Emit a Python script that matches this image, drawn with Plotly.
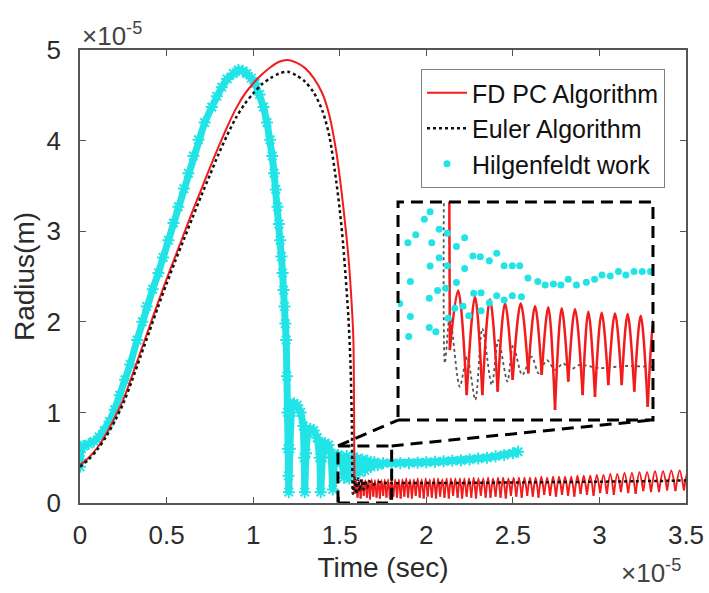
import plotly.graph_objects as go

# ---------------- data (time and radius both in units of 1e-5) ----------------
x_ticks = [0, 0.5, 1, 1.5, 2, 2.5, 3, 3.5]
x_tick_labels = ["0", "0.5", "1", "1.5", "2", "2.5", "3", "3.5"]
y_ticks = [0, 1, 2, 3, 4, 5]
y_tick_labels = ["0", "1", "2", "3", "4", "5"]

# FD PC algorithm: growth and collapse
fd_t = [0.0, 0.05, 0.10, 0.15, 0.20, 0.25, 0.30, 0.35, 0.40, 0.45, 0.50, 0.55, 0.60, 0.65,
        0.70, 0.75, 0.80, 0.85, 0.90, 0.95, 1.00, 1.05, 1.10, 1.15, 1.20, 1.25, 1.30, 1.35,
        1.40, 1.44, 1.48, 1.50, 1.52, 1.55, 1.57, 1.579, 1.583, 1.585]
fd_r = [0.42, 0.50, 0.61, 0.76, 0.94, 1.14, 1.40, 1.67, 1.94, 2.21, 2.47, 2.72, 2.97, 3.22,
        3.46, 3.70, 3.93, 4.15, 4.35, 4.51, 4.63, 4.73, 4.81, 4.87, 4.89, 4.86, 4.80, 4.69,
        4.52, 4.28, 3.88, 3.60, 3.28, 2.72, 2.17, 1.80, 1.00, 0.10]
# FD PC algorithm: after-bounce oscillation (troughs and peaks)
fd_trough_t = [1.585, 1.603, 1.621, 1.639, 1.657, 1.675, 1.694, 1.713, 1.732, 1.751,
               1.770, 1.790, 1.810, 1.831, 1.852, 1.873, 1.895, 1.917, 1.939, 1.962,
               1.985, 2.008, 2.032, 2.056, 2.080, 2.105, 2.130, 2.155, 2.181, 2.207,
               2.233, 2.260, 2.287, 2.315, 2.343, 2.371, 2.400, 2.429, 2.459, 2.489,
               2.520, 2.551, 2.583, 2.615, 2.648, 2.681, 2.715, 2.749, 2.784, 2.819,
               2.855, 2.891, 2.928, 2.966, 3.004, 3.043, 3.083, 3.124, 3.166, 3.209,
               3.253, 3.298, 3.344, 3.391, 3.439, 3.488, 3.538]
fd_trough_r = [0.10, 0.06, 0.05, 0.08, 0.06, 0.04, 0.07, 0.06, 0.05, 0.08,
               0.06, 0.04, 0.07, 0.06, 0.05, 0.07, 0.06, 0.05, 0.08, 0.06,
               0.05, 0.07, 0.06, 0.05, 0.07, 0.06, 0.05, 0.08, 0.06, 0.05,
               0.07, 0.06, 0.05, 0.08, 0.06, 0.06, 0.07, 0.06, 0.05, 0.08,
               0.07, 0.06, 0.08, 0.07, 0.06, 0.09, 0.08, 0.07, 0.09, 0.08,
               0.07, 0.10, 0.09, 0.08, 0.11, 0.10, 0.09, 0.12, 0.11, 0.10,
               0.13, 0.12, 0.12, 0.14, 0.13, 0.14, 0.15]
fd_peak_t = [1.594, 1.612, 1.630, 1.648, 1.666, 1.6845, 1.7035, 1.7225, 1.7415, 1.7605,
             1.780, 1.800, 1.8205, 1.8415, 1.8625, 1.884, 1.906, 1.928, 1.9505, 1.9735,
             1.9965, 2.020, 2.044, 2.068, 2.0925, 2.1175, 2.1425, 2.168, 2.194, 2.220,
             2.2465, 2.2735, 2.301, 2.329, 2.357, 2.3855, 2.4145, 2.444, 2.474, 2.5045,
             2.5355, 2.567, 2.599, 2.6315, 2.6645, 2.698, 2.732, 2.7665, 2.8015, 2.837,
             2.873, 2.9095, 2.947, 2.985, 3.0235, 3.063, 3.1035, 3.145, 3.1875, 3.231,
             3.2755, 3.321, 3.3675, 3.415, 3.4635, 3.513]
fd_peak_r = [0.25, 0.25, 0.26, 0.25, 0.25, 0.26, 0.25, 0.26, 0.25, 0.26,
             0.26, 0.25, 0.26, 0.26, 0.26, 0.27, 0.26, 0.26, 0.27, 0.26,
             0.27, 0.26, 0.27, 0.27, 0.26, 0.27, 0.27, 0.27, 0.27, 0.27,
             0.27, 0.28, 0.27, 0.27, 0.28, 0.27, 0.28, 0.28, 0.27, 0.28,
             0.28, 0.28, 0.28, 0.28, 0.29, 0.28, 0.29, 0.29, 0.29, 0.29,
             0.30, 0.30, 0.30, 0.31, 0.31, 0.32, 0.32, 0.33, 0.33, 0.34,
             0.34, 0.35, 0.35, 0.36, 0.36, 0.37]

# Euler algorithm
eu_t = [0.0, 0.05, 0.10, 0.15, 0.20, 0.25, 0.30, 0.35, 0.40, 0.45, 0.50, 0.55, 0.60, 0.65,
        0.70, 0.75, 0.80, 0.85, 0.90, 0.95, 1.00, 1.05, 1.10, 1.15, 1.20, 1.25, 1.30, 1.35,
        1.40, 1.44, 1.48, 1.50, 1.52, 1.55, 1.562, 1.570, 1.576,
        1.586, 1.596, 1.606, 1.616, 1.626, 1.636, 1.646, 1.658, 1.672, 1.69, 1.72, 1.77,
        1.9, 2.1, 2.4, 2.7, 3.0, 3.2, 3.4, 3.5]
eu_r = [0.40, 0.48, 0.59, 0.73, 0.90, 1.10, 1.35, 1.62, 1.89, 2.16, 2.42, 2.67, 2.91, 3.15,
        3.39, 3.62, 3.85, 4.06, 4.25, 4.40, 4.52, 4.62, 4.69, 4.74, 4.76, 4.72, 4.65, 4.53,
        4.33, 4.05, 3.55, 3.24, 2.85, 2.05, 1.55, 0.90, 0.10,
        0.28, 0.10, 0.27, 0.13, 0.26, 0.15, 0.25, 0.17, 0.24, 0.20, 0.23, 0.22,
        0.22, 0.22, 0.225, 0.23, 0.235, 0.24, 0.245, 0.25]

# Hilgenfeldt work
hg_t = [0.0, 0.0, 0.0, 0.004, 0.02, 0.05, 0.08, 0.11, 0.14, 0.17,
        0.20, 0.23, 0.26, 0.29, 0.33, 0.36, 0.385, 0.42, 0.453, 0.48,
        0.511, 0.54, 0.568, 0.60, 0.626, 0.655, 0.684, 0.72, 0.761, 0.79,
        0.819, 0.85, 0.886, 0.915, 0.94, 0.963, 0.99, 1.012, 1.037, 1.06,
        1.08, 1.098, 1.11, 1.121, 1.131, 1.141, 1.149, 1.156, 1.163, 1.170,
        1.176, 1.181, 1.186, 1.191, 1.195, 1.198, 1.201, 1.204, 1.206,
        1.212, 1.22, 1.235, 1.255, 1.275, 1.29, 1.295, 1.298,
        1.305, 1.315, 1.33, 1.35, 1.37, 1.385, 1.39,
        1.40, 1.415, 1.435, 1.45, 1.46,
        1.47, 1.49, 1.51, 1.525, 1.54, 1.555, 1.57, 1.585, 1.60, 1.615,
        1.63, 1.645, 1.66, 1.68, 1.70, 1.72, 1.75, 1.80, 1.85, 1.90,
        1.95, 2.00, 2.05, 2.10, 2.15, 2.20, 2.25, 2.30, 2.35, 2.40,
        2.45, 2.50, 2.53]
hg_r = [0.40, 0.48, 0.56, 0.62, 0.63, 0.65, 0.68, 0.73, 0.80, 0.90,
        1.03, 1.19, 1.36, 1.53, 1.80, 2.00, 2.17, 2.36, 2.54, 2.71,
        2.90, 3.09, 3.27, 3.47, 3.64, 3.83, 4.01, 4.20, 4.37, 4.49,
        4.59, 4.68, 4.74, 4.78, 4.77, 4.74, 4.69, 4.63, 4.51, 4.37,
        4.20, 4.01, 3.83, 3.64, 3.46, 3.27, 3.08, 2.90, 2.72, 2.54,
        2.35, 2.17, 1.98, 1.80, 1.40, 1.00, 0.60, 0.30, 0.12,
        0.60, 1.00, 1.10, 1.08, 1.00, 0.85, 0.50, 0.12,
        0.55, 0.78, 0.82, 0.80, 0.72, 0.50, 0.12,
        0.50, 0.66, 0.64, 0.55, 0.15,
        0.45, 0.53, 0.49, 0.28, 0.52, 0.27, 0.50, 0.31, 0.49, 0.34,
        0.48, 0.36, 0.47, 0.40, 0.45, 0.42, 0.44, 0.44, 0.44, 0.44,
        0.445, 0.45, 0.455, 0.46, 0.465, 0.47, 0.48, 0.49, 0.50, 0.515,
        0.53, 0.55, 0.565]

# ---------------- inset (magnified view) data ----------------
inset_x_range = [1.49, 1.80]
inset_y_range = [0.0, 0.63]

ins_fd_drop_t = [1.552, 1.553]
ins_fd_drop_r = [0.90, 0.202]
ins_fd_trough_t = [1.553, 1.5735, 1.5925, 1.6112, 1.6294, 1.6484, 1.6647, 1.6809,
                   1.6970, 1.7145, 1.7295, 1.7457, 1.7620, 1.7773, 1.7936, 1.810]
ins_fd_trough_r = [0.202, 0.072, 0.072, 0.082, 0.116, 0.135, 0.130, 0.029,
                   0.111, 0.072, 0.067, 0.101, 0.101, 0.082, 0.038, 0.070]
ins_fd_peak_t = [1.563, 1.5836, 1.6018, 1.6201, 1.6392, 1.6566, 1.6727, 1.6890,
                 1.7052, 1.7214, 1.7376, 1.7538, 1.7692, 1.7851, 1.8015]
ins_fd_peak_r = [0.374, 0.356, 0.349, 0.337, 0.337, 0.329, 0.326, 0.323,
                 0.320, 0.313, 0.310, 0.308, 0.306, 0.301, 0.296]

ins_eu_t = [1.546, 1.547, 1.553, 1.565, 1.574, 1.584, 1.5925, 1.604, 1.612, 1.623, 1.630,
            1.641, 1.6525, 1.661, 1.671, 1.681, 1.691, 1.699, 1.711, 1.736, 1.766, 1.802]
ins_eu_r = [0.80, 0.164, 0.299, 0.096, 0.183, 0.058, 0.265, 0.101, 0.231, 0.111, 0.217,
            0.130, 0.183, 0.135, 0.173, 0.145, 0.164, 0.145, 0.159, 0.150, 0.156, 0.153]

ins_hg_t = [1.492, 1.505, 1.505, 1.503, 1.502, 1.5115, 1.522, 1.529, 1.531, 1.529,
            1.528, 1.528, 1.536, 1.538, 1.540, 1.540, 1.548, 1.550, 1.550, 1.551,
            1.559, 1.561, 1.561, 1.571, 1.571, 1.569, 1.576, 1.581, 1.582, 1.590,
            1.591, 1.591, 1.601, 1.601, 1.610, 1.610, 1.619, 1.619, 1.629, 1.629,
            1.638, 1.640, 1.648, 1.660, 1.669, 1.679, 1.688, 1.697, 1.707, 1.719,
            1.729, 1.738, 1.748, 1.758, 1.767, 1.777, 1.787, 1.797]
ins_hg_r = [0.337, 0.400, 0.299, 0.241, 0.512, 0.535, 0.580, 0.602, 0.512, 0.445,
            0.352, 0.267, 0.255, 0.374, 0.469, 0.551, 0.381, 0.446, 0.540, 0.294,
            0.323, 0.397, 0.501, 0.527, 0.438, 0.329, 0.301, 0.474, 0.366, 0.472,
            0.368, 0.316, 0.460, 0.339, 0.482, 0.359, 0.446, 0.347, 0.446, 0.359,
            0.446, 0.356, 0.410, 0.400, 0.390, 0.393, 0.390, 0.407, 0.390, 0.398,
            0.407, 0.419, 0.416, 0.429, 0.419, 0.429, 0.429, 0.429]

# ---------------- styling ----------------
RED = "#f21c1c"
CYAN = "#22e4e6"
FONT = "Arial, Liberation Sans, sans-serif"
AXC = "#555555"
TXT = "#2b2b2b"
main_x_range = [0, 3.5]
main_y_range = [0, 5]
inset_dom_x = [0.5248, 0.9455]
inset_dom_y = [0.1832, 0.6645]
DASH = "12px,7px"


def arcs(head_t, head_r, tr_t, tr_r, pk_t, pk_r):
    xs, ys = list(head_t), list(head_r)
    for i in range(len(pk_t)):
        xs += [None, tr_t[i], pk_t[i], tr_t[i + 1]]
        ys += [None, tr_r[i], pk_r[i], tr_r[i + 1]]
    return xs, ys


fd_x, fd_y = arcs(fd_t, fd_r, fd_trough_t, fd_trough_r, fd_peak_t, fd_peak_r)
ins_fd_x, ins_fd_y = arcs(ins_fd_drop_t, ins_fd_drop_r, ins_fd_trough_t, ins_fd_trough_r,
                          ins_fd_peak_t, ins_fd_peak_r)

fig = go.Figure()

fig.add_trace(go.Scatter(
    x=hg_t, y=hg_r, mode="lines+markers", showlegend=False, hoverinfo="skip",
    line=dict(color=CYAN, width=7),
    marker=dict(symbol="asterisk-open", size=10, color=CYAN, line=dict(color=CYAN, width=2)),
))
fig.add_trace(go.Scatter(
    x=fd_x, y=fd_y, mode="lines", name="FD PC Algorithm",
    line=dict(color=RED, width=2, shape="spline", smoothing=0.8),
))
fig.add_trace(go.Scatter(
    x=eu_t, y=eu_r, mode="lines", name="Euler Algorithm",
    line=dict(color="#111111", width=2.5, dash="dot", shape="spline", smoothing=0.8),
))
fig.add_trace(go.Scatter(
    x=[None], y=[None], mode="markers", name="Hilgenfeldt work",
    marker=dict(symbol="circle", size=7, color=CYAN),
))

# inset traces
fig.add_trace(go.Scatter(
    x=ins_eu_t, y=ins_eu_r, mode="lines", xaxis="x2", yaxis="y2", showlegend=False,
    line=dict(color="#555555", width=1.8, dash="dot", shape="spline", smoothing=0.8),
))
fig.add_trace(go.Scatter(
    x=ins_fd_x, y=ins_fd_y, mode="lines", xaxis="x2", yaxis="y2", showlegend=False,
    line=dict(color=RED, width=2.5, shape="spline", smoothing=1.0),
))
fig.add_trace(go.Scatter(
    x=ins_hg_t, y=ins_hg_r, mode="markers", xaxis="x2", yaxis="y2", showlegend=False,
    marker=dict(symbol="circle", size=7, color=CYAN),
))

axis_common = dict(
    showgrid=False, zeroline=False, showline=True, linecolor=AXC, linewidth=1.5,
    mirror="ticks", ticks="inside", ticklen=6, tickwidth=1.2, tickcolor=AXC,
    tickfont=dict(family=FONT, size=26, color=TXT),
)

fig.update_layout(
    width=709, height=593,
    margin=dict(l=80, r=23, t=50, b=90),
    paper_bgcolor="white", plot_bgcolor="white",
    font=dict(family=FONT, color=TXT),
    xaxis=dict(range=main_x_range, tickvals=x_ticks, ticktext=x_tick_labels,
               ticklabelstandoff=8,
               title=dict(text="Time (sec)", font=dict(family=FONT, size=28, color=TXT), standoff=8),
               automargin=False, **axis_common),
    yaxis=dict(range=main_y_range, tickvals=y_ticks, ticktext=y_tick_labels,
               ticklabelstandoff=12,
               title=dict(text="Radius(m)", font=dict(family=FONT, size=28, color=TXT), standoff=4),
               automargin=False, **axis_common),
    xaxis2=dict(domain=inset_dom_x, anchor="y2", range=inset_x_range, visible=False),
    yaxis2=dict(domain=inset_dom_y, anchor="x2", range=inset_y_range, visible=False),
    legend=dict(x=0.5627, y=0.958, xanchor="left", yanchor="top",
                bgcolor="white", bordercolor="#808080", borderwidth=1,
                font=dict(family=FONT, size=25, color="#111111"),
                itemwidth=40, tracegroupgap=0),
    showlegend=True,
)

# inset frame, zoom box and connectors
fig.add_shape(type="rect", xref="x2 domain", yref="y2 domain", x0=0, x1=1, y0=0, y1=1,
              line=dict(color="black", width=3, dash=DASH), layer="above")
fig.add_shape(type="rect", xref="x", yref="y",
              x0=inset_x_range[0], x1=inset_x_range[1], y0=inset_y_range[0], y1=inset_y_range[1],
              line=dict(color="black", width=3, dash=DASH), layer="above")
bl_x = main_x_range[0] + inset_dom_x[0] * (main_x_range[1] - main_x_range[0])
br_x = main_x_range[0] + inset_dom_x[1] * (main_x_range[1] - main_x_range[0])
b_y = main_y_range[0] + inset_dom_y[0] * (main_y_range[1] - main_y_range[0])
fig.add_shape(type="line", xref="x", yref="y", x0=inset_x_range[0], y0=inset_y_range[1],
              x1=bl_x, y1=b_y, line=dict(color="black", width=3, dash=DASH), layer="above")
fig.add_shape(type="line", xref="x", yref="y", x0=inset_x_range[1], y0=inset_y_range[1],
              x1=br_x, y1=b_y, line=dict(color="black", width=3, dash=DASH), layer="above")

# exponent labels
fig.add_annotation(text="×10<sup>-5</sup>", xref="paper", yref="paper", x=0.0, y=1.0,
                   xanchor="left", yanchor="bottom", showarrow=False, yshift=-3,
                   font=dict(family=FONT, size=26, color="#444444"))
fig.add_annotation(text="×10<sup>-5</sup>", xref="paper", yref="paper", x=0.995, y=-0.11,
                   xanchor="right", yanchor="top", showarrow=False,
                   font=dict(family=FONT, size=26, color="#444444"))

fig.write_html("out.html")
